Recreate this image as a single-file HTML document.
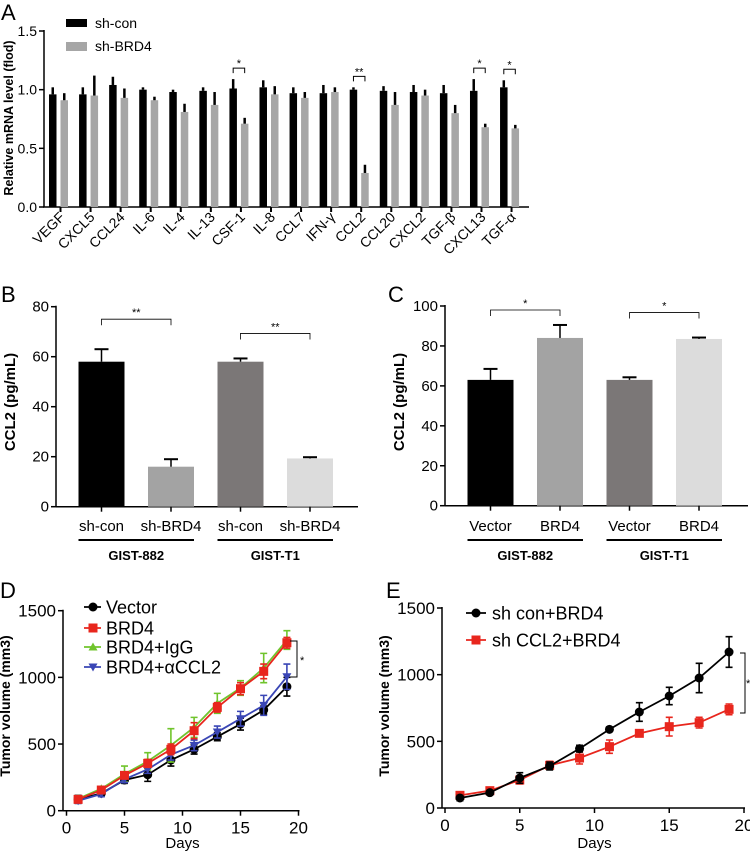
<!DOCTYPE html>
<html><head><meta charset="utf-8"><style>
html,body{margin:0;padding:0;background:#fff;}
svg{display:block;font-family:"Liberation Sans",sans-serif;}
</style></head><body>
<svg id="fig" width="750" height="853" viewBox="0 0 750 853" xmlns="http://www.w3.org/2000/svg">
<text x="1" y="20" font-size="22">A</text>
<text x="1" y="302" font-size="22">B</text>
<text x="388" y="302" font-size="22">C</text>
<text x="0" y="598" font-size="22">D</text>
<text x="386" y="598" font-size="22">E</text>
</svg>
<script>
// ---------- Panel A data ----------
const aCats = ["VEGF","CXCL5","CCL24","IL-6","IL-4","IL-13","CSF-1","IL-8","CCL7","IFN-\u03b3","CCL2","CCL20","CXCL2","TGF-\u03b2","CXCL13","TGF-\u03b1"];
const aCon = [0.96,0.96,1.04,1.00,0.98,0.99,1.01,1.02,0.97,0.97,1.00,0.99,0.98,0.97,0.99,1.02];
const aConErr = [0.06,0.06,0.07,0.02,0.02,0.03,0.08,0.06,0.05,0.07,0.02,0.04,0.06,0.07,0.10,0.06];
const aBrd = [0.91,0.95,0.93,0.91,0.81,0.87,0.71,0.96,0.93,0.98,0.29,0.87,0.95,0.80,0.68,0.67];
const aBrdErr = [0.06,0.17,0.08,0.03,0.07,0.11,0.05,0.07,0.05,0.04,0.07,0.11,0.05,0.07,0.03,0.03];
const aTicks = [0,0.5,1.0,1.5];
const aSigIdx = [6,10,14,15];
const aSigTxt = ["*","**","*","*"];
// ---------- Panel B data ----------
const bCats = ["sh-con","sh-BRD4","sh-con","sh-BRD4"];
const bVals = [58,16,58,19.3];
const bErr = [5,3,1.3,0.5];
const bTicks = [0,20,40,60,80];
// ---------- Panel C data ----------
const cCats = ["Vector","BRD4","Vector","BRD4"];
const cVals = [63,84,63,83.5];
const cErr = [5.5,6.5,1.3,0.7];
const cTicks = [0,20,40,60,80,100];
// ---------- Panel D data ----------
const days = [1,3,5,7,9,11,13,15,17,19];
const dVector = [85,130,230,270,380,460,555,650,755,930];
const dVectorErr = [30,20,25,50,45,35,30,45,30,70];
const dBRD4 = [85,155,265,355,460,600,775,915,1045,1260];
const dBRD4Err = [20,20,25,30,40,60,35,45,55,40];
const dIgG = [90,165,275,370,490,625,805,920,1070,1280];
const dIgGErr = [15,15,60,65,125,75,75,55,110,70];
const dAnti = [75,125,235,310,420,490,590,690,790,1005];
const dAntiErr = [20,20,25,30,40,40,45,55,75,95];
const dTicksY = [0,500,1000,1500];
const dTicksX = [0,5,10,15,20];
// ---------- Panel E data ----------
const eCon = [75,115,225,315,445,590,720,840,975,1170];
const eConErr = [20,15,40,30,25,15,70,65,110,115];
const eCCL2 = [95,130,210,320,375,460,560,610,640,740];
const eCCL2Err = [20,15,30,30,45,50,20,70,40,40];

const NS = "http://www.w3.org/2000/svg";
const svg = document.getElementById('fig');
function mk(tag, attrs, txt){
  const e = document.createElementNS(NS, tag);
  for (const k in attrs) e.setAttribute(k, attrs[k]);
  if (txt !== undefined) e.textContent = txt;
  svg.appendChild(e);
  return e;
}
function line(x1,y1,x2,y2,stroke,w){ return mk('line',{x1:x1,y1:y1,x2:x2,y2:y2,stroke:stroke,'stroke-width':w}); }

// ================= Panel A =================
const xA = i => 60.5 + i*30.07;
const yA = v => 207 - v*117.33;
let el;
el = line(44,yA(1.5)-1,44,207,'#000',1.5);


el = line(43,207,529,207,'#000',1.5);


aTicks.forEach(t=>{
  el = line(39,yA(t),44,yA(t),'#000',1.5);
  
  
  el = mk('text',{x:37,y:yA(t)+5,'font-size':14,'text-anchor':'end'},t.toFixed(1));
  
  
});
el = mk('text',{x:0,y:0,'font-size':12.5,'font-weight':'bold','text-anchor':'middle',transform:'translate(13,118) rotate(-90)'},'Relative mRNA level (flod)');


aCats.forEach((c,i)=>{
  const cx = xA(i);
  el = mk('rect',{x:cx-11.5,y:yA(aCon[i]),width:7.5,height:207-yA(aCon[i]),fill:'#000'});
  
  
  el = line(cx-7.75,yA(aCon[i]),cx-7.75,yA(aCon[i]+aConErr[i]),'#000',2.5);
  
  
  el = mk('rect',{x:cx,y:yA(aBrd[i]),width:7.5,height:207-yA(aBrd[i]),fill:'#a6a6a6'});
  
  
  el = line(cx+3.75,yA(aBrd[i]),cx+3.75,yA(aBrd[i]+aBrdErr[i]),'#000',2.5);
  
  
  el = line(cx,207,cx,212,'#000',2);
  
  
  el = mk('text',{x:0,y:0,'font-size':14,'text-anchor':'end',transform:'translate('+(cx+5)+',218) rotate(-45)'},c);
  
  
});
aSigIdx.forEach((i,k)=>{
  const cx = xA(i);
  const top = Math.min(yA(aCon[i]+aConErr[i]), yA(aBrd[i]+aBrdErr[i])) - 11;
  el = mk('path',{d:'M'+(cx-7.75)+','+(top+5)+'V'+top+'H'+(cx+3.75)+'V'+(top+5),fill:'none',stroke:'#000','stroke-width':1});
  
  
  el = mk('text',{x:cx-2,y:top-1,'font-size':11,'text-anchor':'middle'},aSigTxt[k]);
  
  
});
el = mk('rect',{x:66,y:19,width:21,height:8,fill:'#000'});


el = mk('text',{x:95,y:28,'font-size':14},'sh-con');


el = mk('rect',{x:66,y:42,width:21,height:9,fill:'#a6a6a6'});


el = mk('text',{x:95,y:51,'font-size':14},'sh-BRD4');



// ================= Bar panels B & C =================
const barColors = ['#000','#a3a3a3','#7b7777','#dcdcdc'];
function barPanel(p, ax, axEnd, y0, yTop, vmax, cats, vals, errs, ticks, groups, sig){
  const y = v => y0 - v*(y0-yTop)/vmax;
  const x = i => ax + 45.5 + i*69.5;
  el = line(ax,yTop-1,ax,y0,'#000',1.5);
  
  
  el = line(ax,y0,axEnd,y0,'#000',1.5);
  
  
  ticks.forEach(t=>{
    el = line(ax-5,y(t),ax,y(t),'#000',1.5);
    
    
    el = mk('text',{x:ax-7,y:y(t)+5,'font-size':15,'text-anchor':'end'},String(t));
    
    
  });
  el = mk('text',{x:0,y:0,'font-size':15,'font-weight':'bold','text-anchor':'middle',transform:'translate('+(ax-41)+',402) rotate(-90)'},'CCL2 (pg/mL)');
  
  
  cats.forEach((c,i)=>{
    el = mk('rect',{x:x(i)-23,y:y(vals[i]),width:46,height:y0-y(vals[i]),fill:barColors[i]});
    
    
    el = line(x(i),y(vals[i]),x(i),y(vals[i]+errs[i]),'#000',1.5);
    
    
    el = line(x(i)-7,y(vals[i]+errs[i]),x(i)+7,y(vals[i]+errs[i]),'#000',2);
    
    
    el = line(x(i),y0,x(i),y0+5,'#000',1.5);
    
    
    el = mk('text',{x:x(i),y:531,'font-size':15,'text-anchor':'middle'},c);
    
    
  });
  [[0,1,groups[0]],[2,3,groups[1]]].forEach((g,k)=>{
    el = line(x(g[0])-23,540,x(g[1])+23,540,'#000',2);
    
    
    el = mk('text',{x:(x(g[0])+x(g[1]))/2,y:560,'font-size':13,'font-weight':'bold','text-anchor':'middle'},g[2]);
    
    
    const top = y(Math.max(vals[g[0]]+errs[g[0]], vals[g[1]]+errs[g[1]])) - 15 - (p==='b'?(k?10:15):(k?10:0));
    el = mk('path',{d:'M'+x(g[0])+','+(top+6)+'V'+top+'H'+x(g[1])+'V'+(top+6),fill:'none',stroke:'#000','stroke-width':0.8});
    
    
    el = mk('text',{x:(x(g[0])+x(g[1]))/2,y:top-3,'font-size':11,'text-anchor':'middle'},sig);
    
    
  });
}
barPanel('b',56,358,506.7,306.7,80,bCats,bVals,bErr,bTicks,['GIST-882','GIST-T1'],'**');
barPanel('c',445,748,505.7,306,100,cCats,cVals,cErr,cTicks,['GIST-882','GIST-T1'],'*');

// ================= Line panels D & E =================
function marker(p, shape, x, y, color){
  if (shape==='circle') el = mk('circle',{cx:x,cy:y,r:4.5,fill:color});
  else if (shape==='square') el = mk('rect',{x:x-4.5,y:y-4.5,width:9,height:9,fill:color});
  else if (shape==='up') el = mk('path',{d:'M'+x+','+(y-4.5)+'L'+(x+4.5)+','+(y+3.5)+'L'+(x-4.5)+','+(y+3.5)+'Z',fill:color});
  else el = mk('path',{d:'M'+x+','+(y+4.5)+'L'+(x+4.5)+','+(y-3.5)+'L'+(x-4.5)+','+(y-3.5)+'Z',fill:color});
  return el;
}
function linePanel(p, yAxisX, xAxisStart, x0, pxDay, y0, cfgs){
  const x = d => x0 + d*pxDay;
  const y = v => y0 - v*0.13333;
  el = line(yAxisX,y(1500)-1,yAxisX,y0,'#000',1.5);
  
  
  el = line(xAxisStart,y0,x(20)+1,y0,'#000',1.5);
  
  
  dTicksY.forEach(t=>{
    el = line(yAxisX-5,y(t),yAxisX,y(t),'#000',1.5);
    
    
    el = mk('text',{x:yAxisX-7,y:y(t)+6,'font-size':17,'text-anchor':'end'},String(t));
    
    
  });
  dTicksX.forEach(t=>{
    el = line(x(t),y0,x(t),y0+5,'#000',1.5);
    
    
    el = mk('text',{x:x(t),y:y0+23,'font-size':17,'text-anchor':'middle'},String(t));
    
    
  });
  el = mk('text',{x:(x(0)+x(20))/2,y:848,'font-size':15,'text-anchor':'middle'},'Days');
  
  
  el = mk('text',{x:0,y:0,'font-size':14,'font-weight':'bold','text-anchor':'middle',transform:'translate('+(yAxisX-53)+',706) rotate(-90)'},'Tumor volume (mm3)');
  
  
  cfgs.forEach(c=>{
    days.forEach((d,i)=>{
      const hi = y(c.v[i]+c.e[i]), lo = y(c.v[i]-c.e[i]);
      el = mk('path',{d:'M'+x(d)+','+hi+'V'+lo+'M'+(x(d)-3.5)+','+hi+'H'+(x(d)+3.5)+'M'+(x(d)-3.5)+','+lo+'H'+(x(d)+3.5),stroke:c.color,'stroke-width':1.6,fill:'none'});
      
      
    });
    el = mk('polyline',{points:days.map((d,i)=>x(d)+','+y(c.v[i])).join(' '),fill:'none',stroke:c.color,'stroke-width':1.8});
    
    
    days.forEach((d,i)=>{
      el = marker(p,c.shape,x(d),y(c.v[i]),c.color);
      
      
    });
  });
}
const dCfg = [
  {name:'vector',v:dVector,e:dVectorErr,color:'#000',shape:'circle',label:'Vector'},
  {name:'brd4-igg',v:dIgG,e:dIgGErr,color:'#70c42c',shape:'up',label:'BRD4+IgG'},
  {name:'brd4-accl2',v:dAnti,e:dAntiErr,color:'#3a46b5',shape:'down',label:'BRD4+\u03b1CCL2'},
  {name:'brd4',v:dBRD4,e:dBRD4Err,color:'#e8261d',shape:'square',label:'BRD4'}
];
linePanel('d',63,63,66.5,11.6,810.7,dCfg);
const eCfg = [
  {name:'sh-ccl2-brd4',v:eCCL2,e:eCCL2Err,color:'#e8261d',shape:'square',label:'sh CCL2+BRD4'},
  {name:'sh-con-brd4',v:eCon,e:eConErr,color:'#000',shape:'circle',label:'sh con+BRD4'}
];
linePanel('e',442,442,445,14.95,808,eCfg);

// legends
const dLeg = [dCfg[0],dCfg[3],dCfg[1],dCfg[2]];
const dLegY = [607,628,647,667];
dLeg.forEach((c,k)=>{
  el = line(84,dLegY[k],101,dLegY[k],c.color,1.8);
  
  
  el = marker('d',c.shape,93,dLegY[k],c.color);
  
  
  el = mk('text',{x:106,y:dLegY[k]+6.5,'font-size':18},c.label);
  
  
});
const eLeg = [eCfg[1],eCfg[0]];
const eLegY = [613,640];
eLeg.forEach((c,k)=>{
  el = line(466,eLegY[k],486,eLegY[k],c.color,1.8);
  
  
  el = marker('e',c.shape,476,eLegY[k],c.color);
  
  
  el = mk('text',{x:492,y:eLegY[k]+6.5,'font-size':18},c.label);
  
  
});
// significance brackets D/E
el = mk('path',{d:'M290,641H297V677H290',fill:'none',stroke:'#000','stroke-width':1});


el = mk('text',{x:300,y:664,'font-size':11},'*');


el = mk('path',{d:'M740,653H745V713H740',fill:'none',stroke:'#000','stroke-width':1});


el = mk('text',{x:746,y:687,'font-size':11},'*');


</script>
</body></html>
